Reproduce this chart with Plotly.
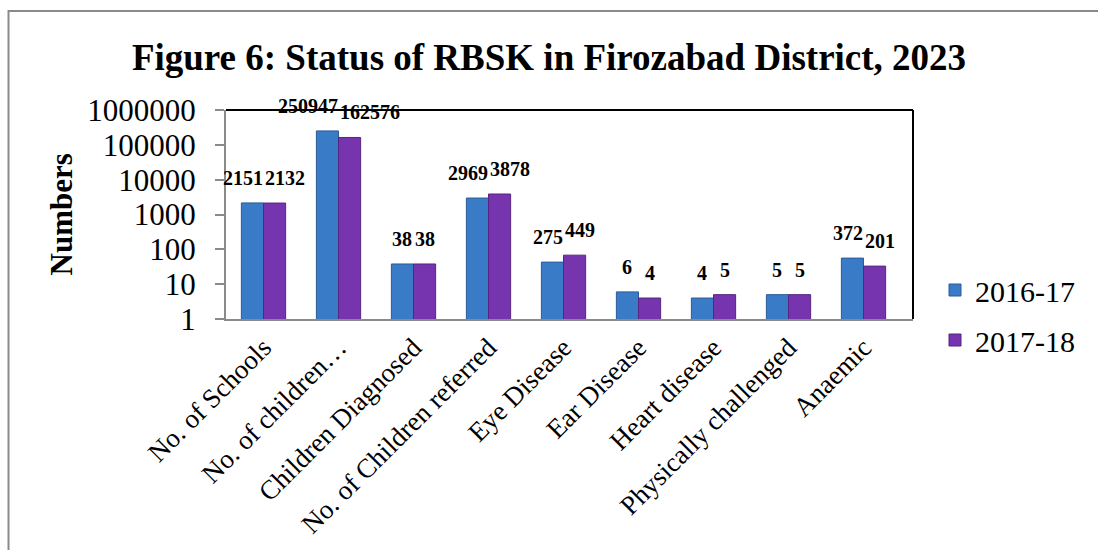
import plotly.graph_objects as go
import math

categories = ["No. of Schools", "No. of children…", "Children Diagnosed",
              "No. of Children referred", "Eye Disease", "Ear Disease",
              "Heart disease", "Physically challenged", "Anaemic"]
series_names = ["2016-17", "2017-18"]
# data-label values printed on the chart
labels_2016_17 = [2151, 250947, 38, 2969, 275, 6, 4, 5, 372]
labels_2017_18 = [2132, 162576, 38, 3878, 449, 4, 5, 5, 201]
# bar heights (log axis)
heights_2016_17 = [2151, 250947, 38, 2969, 43, 6, 4, 5, 56]
heights_2017_18 = [2132, 162576, 38, 3878, 68, 4, 5, 5, 33]
tick_values = [1, 10, 100, 1000, 10000, 100000, 1000000]
tick_labels = ["1", "10", "100", "1000", "10000", "100000", "1000000"]

FONT = "Liberation Serif, Times New Roman, serif"
colors = ["#3a7bc8", "#7634ae"]
edge = ["#2b5c96", "#57257f"]

W, H = 1098, 550
L, R, T, B = 226, 185, 110, 231
pw, ph = W - L - R, H - T - B
x_range = [-0.5, 8.66]
cat_px = pw / (x_range[1] - x_range[0])
BARGAP = 0.41
LABEL_FS = 20

fig = go.Figure()
for name, vals, c, e in zip(series_names, [heights_2016_17, heights_2017_18], colors, edge):
    fig.add_trace(go.Bar(
        x=categories, y=vals, name=name, legendgroup=name,
        marker=dict(color=c, line=dict(color=e, width=1)),
    ))

# data labels centred on each bar, pushed apart symmetrically if they collide
bar_px = cat_px * (1 - BARGAP) / 2
for cat, h1, h2, t1, t2 in zip(categories, heights_2016_17, heights_2017_18,
                               labels_2016_17, labels_2017_18):
    w1 = len(str(t1)) * 0.5 * LABEL_FS
    w2 = len(str(t2)) * 0.5 * LABEL_FS
    s1, s2 = -0.5 * bar_px, 0.5 * bar_px
    overlap = (s1 + w1 / 2) - (s2 - w2 / 2) + 2
    if overlap > 0:
        s1 -= overlap / 2
        s2 += overlap / 2
    for h, t, s in ((h1, t1, s1), (h2, t2, s2)):
        fig.add_annotation(
            x=cat, y=math.log10(h), text=f"<b>{t}</b>", showarrow=False,
            xshift=s, yshift=12, yanchor="bottom",
            font=dict(family=FONT, size=LABEL_FS, color="black"),
        )

# y-axis title
fig.add_annotation(
    xref="paper", yref="paper", x=(61 - L) / pw, y=0.5, xanchor="center",
    yanchor="middle", text="<b>Numbers</b>",
    textangle=-90, showarrow=False, font=dict(family=FONT, size=31, color="black"),
)

# plot frame top/right (black)
fig.add_shape(type="line", xref="paper", yref="paper", x0=0, x1=1, y0=1, y1=1,
              line=dict(color="black", width=2))
fig.add_shape(type="line", xref="paper", yref="paper", x0=1, x1=1, y0=0, y1=1,
              line=dict(color="black", width=2))
# outer chart frame
fig.add_shape(type="rect", xref="paper", yref="paper",
              x0=(8.5 - L) / pw, x1=(W + 20 - L) / pw,
              y0=(H - B - (H + 20)) / ph, y1=(H - B - 11) / ph,
              line=dict(color="#8a8a8a", width=2), layer="below")

fig.update_layout(
    width=W, height=H,
    margin=dict(l=L, r=R, t=T, b=B),
    paper_bgcolor="white", plot_bgcolor="white",
    barmode="group", bargap=BARGAP, bargroupgap=0,
    title=dict(text="<b>Figure 6: Status of RBSK in Firozabad District, 2023</b>",
               x=0.5, xref="container", xanchor="center",
               y=1 - 57 / H, yref="container", yanchor="middle",
               font=dict(family=FONT, size=37, color="black")),
    font=dict(family=FONT, color="black"),
    showlegend=True,
    legend=dict(x=(935 - L) / pw, xanchor="left", y=(H - B - 264) / ph, yanchor="top",
                font=dict(family=FONT, size=30, color="black"),
                bgcolor="rgba(0,0,0,0)", traceorder="grouped", tracegroupgap=8),
    xaxis=dict(showline=True, linecolor="#8a8a8a", linewidth=2, ticks="",
               range=x_range,
               tickangle=-45, tickfont=dict(family=FONT, size=27, color="black"),
               showgrid=False, zeroline=False),
    yaxis=dict(type="log", range=[0, 6], tickvals=tick_values, ticktext=tick_labels,
               showline=True, linecolor="#8a8a8a", linewidth=2,
               ticks="outside", ticklen=9, tickcolor="#8a8a8a", tickwidth=2,
               ticklabelstandoff=13,
               tickfont=dict(family=FONT, size=31, color="black"),
               showgrid=False, zeroline=False),
)

fig.write_html("out.html", config={"displayModeBar": False},
               post_script="document.body.style.margin='0';")
